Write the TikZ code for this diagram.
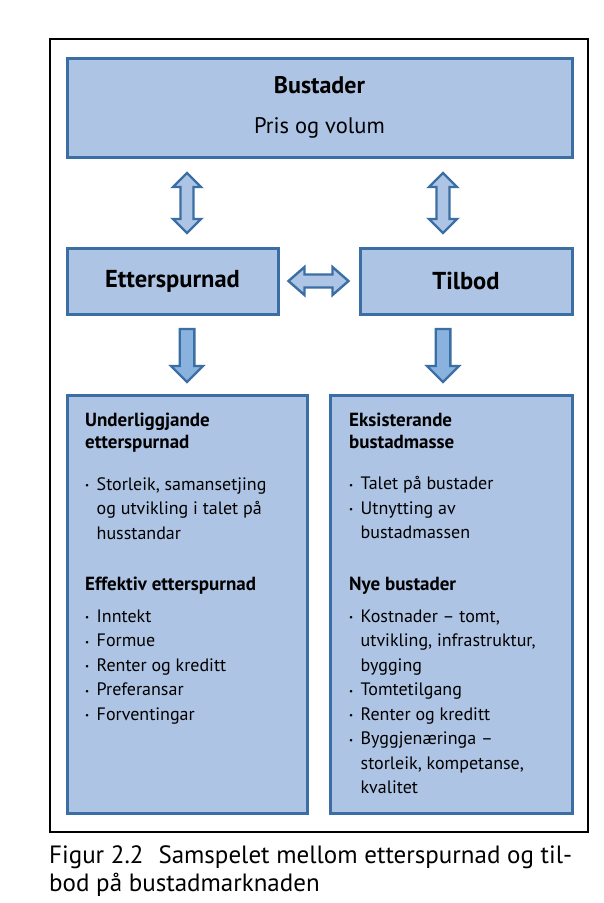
\documentclass[tikz,border=0pt]{standalone}
\usepackage{fontspec}
\setmainfont{PT Sans}
\usetikzlibrary{calc}
\definecolor{boxfill}{HTML}{AEC4E4}
\definecolor{boxline}{HTML}{3C6EA6}
\definecolor{arrfill}{HTML}{8AB2DF}
\newcommand\bl{\makebox[11.5pt][l]{\raisebox{1.5pt}{\fontsize{9}{9}\selectfont •}}}
\begin{document}
\begin{tikzpicture}[x=1pt,y=-1pt,
  box/.style={draw=boxline, line width=3pt, fill=boxfill, inner sep=0pt},
  arr/.style={draw=boxline, line width=2.4pt, fill=boxfill, line join=miter},
  darr/.style={draw=boxline, line width=2.4pt, fill=arrfill, line join=miter},
  hd/.style={anchor=base west, inner sep=0pt, font=\fontsize{19}{22}\selectfont\bfseries},
  bt/.style={anchor=base west, inner sep=0pt, font=\fontsize{18}{24}\selectfont},
  captext/.style={anchor=base west, inner sep=0pt, font=\fontsize{25}{28}\selectfont}]
\useasboundingbox (0,0) rectangle (603,903);
\fill[white] (0,0) rectangle (603,903);
\draw[line width=2pt] (50,39) rectangle (588,832);

% boxes
\node[box, minimum width=505pt, minimum height=99pt] (top) at (319.5,107.5) {};
\node[font=\fontsize{24}{28}\selectfont\bfseries] (topa) at (319.5,85) {Bustader};
\node[font=\fontsize{22.5}{26}\selectfont] (topb) at (319.5,128) {Pris og volum};

\node[box, minimum width=211pt, minimum height=66pt, font=\fontsize{24.5}{28}\selectfont\bfseries] (ett) at (172.5,281) {Etterspurnad};
\node[box, minimum width=212pt, minimum height=66pt, font=\fontsize{24.5}{28}\selectfont\bfseries] (til) at (466,281) {Tilbod};

\node[box, minimum width=240pt, minimum height=418pt] (lb) at (187,604.5) {};
\node[box, minimum width=242pt, minimum height=418pt] (rb) at (451,604.5) {};

% arrows
\coordinate (ua) at (187,203);
\coordinate (ub) at (443,203);
\coordinate (ha) at (318.5,281);
\coordinate (da) at (187,355.5);
\coordinate (db) at (443,355.5);
\foreach \c in {ua,ub}{
  \draw[arr] ($(\c)+(0,-30)$) -- ++(14,14) -- ++(-7.5,0) -- ++(0,32) -- ++(7.5,0) -- ++(-14,14) -- ++(-14,-14) -- ++(7.5,0) -- ++(0,-32) -- ++(-7.5,0) -- cycle;
}
\draw[arr] ($(ha)+(-30,0)$) -- ++(16,-14) -- ++(0,7.5) -- ++(28,0) -- ++(0,-7.5) -- ++(16,14) -- ++(-16,14) -- ++(0,-7.5) -- ++(-28,0) -- ++(0,7.5) -- cycle;
\foreach \c in {da,db}{
  \draw[darr] ($(\c)+(-7.3,-26.5)$) -- ++(14.6,0) -- ++(0,37) -- ++(8.7,0) -- ++(-16,16) -- ++(-16,-16) -- ++(8.7,0) -- cycle;
}

% left box text
\node[hd] (l1) at (85,426) {Underliggjande};
\node[hd] (l2) at (85,448) {etterspurnad};
\node[bt] (l3) at (85,490) {\bl Storleik, samansetjing};
\node[bt] (l4) at (96.5,514.5) {og utvikling i talet på};
\node[bt] (l5) at (96.5,539) {husstandar};
\node[hd] (l6) at (85,590) {Effektiv etterspurnad};
\node[bt] (l7) at (85,622) {\bl Inntekt};
\node[bt] (l8) at (85,646.5) {\bl Formue};
\node[bt] (l9) at (85,671) {\bl Renter og kreditt};
\node[bt] (l10) at (85,695.5) {\bl Preferansar};
\node[bt] (l11) at (85,720) {\bl Forventingar};

% right box text
\node[hd] (r1) at (349,426) {Eksisterande};
\node[hd] (r2) at (349,448) {bustadmasse};
\node[bt] (r3) at (349,489.5) {\bl Talet på bustader};
\node[bt] (r4) at (349,514) {\bl Utnytting av};
\node[bt] (r5) at (360.5,538.5) {bustadmassen};
\node[hd] (r6) at (349,590) {Nye bustader};
\node[bt] (r7) at (349,622) {\bl Kostnader – tomt,};
\node[bt] (r8) at (360.5,646.5) {utvikling, infrastruktur,};
\node[bt] (r9) at (360.5,671) {bygging};
\node[bt] (r10) at (349,695.5) {\bl Tomtetilgang};
\node[bt] (r11) at (349,720) {\bl Renter og kreditt};
\node[bt] (r12) at (349,744.5) {\bl Byggjenæringa –};
\node[bt] (r13) at (360.5,769) {storleik, kompetanse,};
\node[bt] (r14) at (360.5,793) {kvalitet};

% caption
\node[captext] (c1) at (49,863) {Figur 2.2\hspace{0.6em}Samspelet mellom etterspurnad og til-};
\node[captext] (c2) at (49,891) {bod på bustadmarknaden};
\end{tikzpicture}
\end{document}
